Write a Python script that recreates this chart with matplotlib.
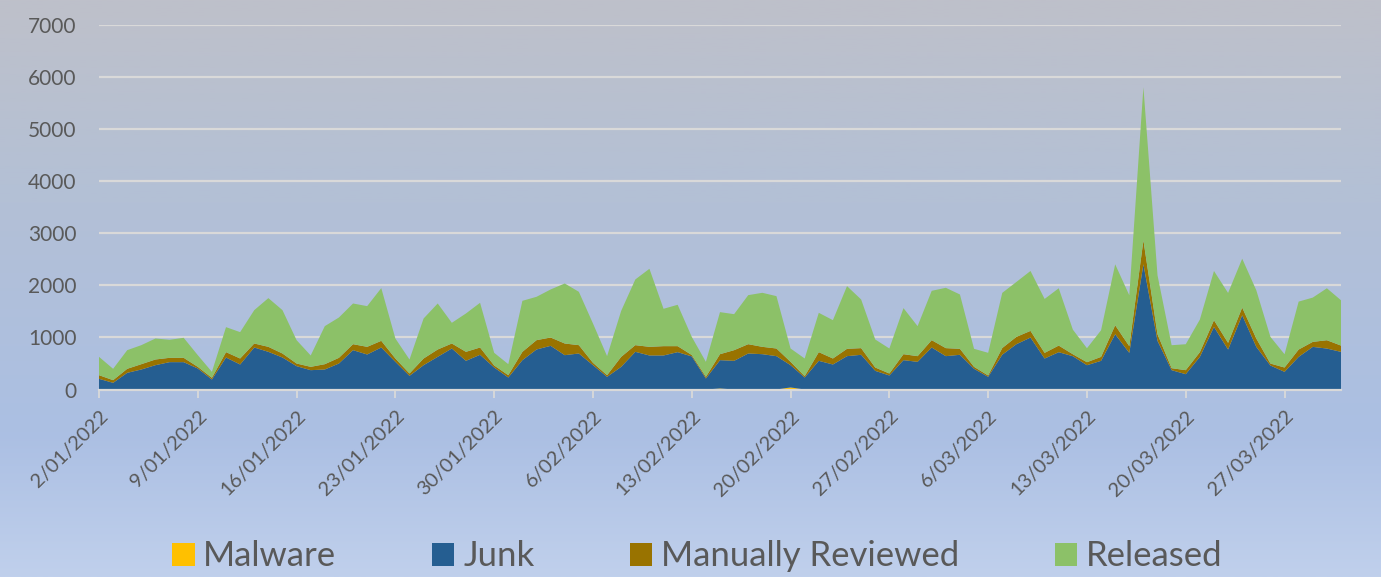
import numpy as np
import pandas as pd
import matplotlib
matplotlib.use("Agg")
import matplotlib.pyplot as plt
import matplotlib.transforms as mtransforms
from matplotlib.patches import Patch
from matplotlib.colors import LinearSegmentedColormap

plt.rcParams['font.family'] = ['Lato', 'DejaVu Sans']

# daily counts, 2 Jan 2022 .. 31 Mar 2022
dates = pd.date_range("2022-01-02", "2022-03-31", freq="D")

malware = [0] * 89
malware[44] = 20
malware[49] = 40

junk = [205, 128, 320, 384, 467, 525, 525, 403, 192, 614,
        480, 806, 723, 614, 448, 371, 384, 499, 755, 672,
        806, 531, 262, 467, 627, 787, 550, 666, 422, 230,
        563, 768, 838, 659, 691, 467, 243, 435, 723, 653,
        653, 717, 635, 211, 543, 550, 691, 678, 640, 427,
        230, 550, 480, 640, 666, 358, 269, 563, 531, 806,
        640, 666, 397, 243, 668, 869, 997, 594, 716, 639,
        466, 550, 1061, 703, 2403, 933, 371, 294, 626, 1201,
        767, 1425, 818, 460, 339, 626, 818, 786, 722]

manual = [70, 51, 77, 102, 109, 83, 83, 32, 32, 103,
          115, 77, 96, 77, 51, 64, 102, 109, 115, 147,
          128, 64, 45, 128, 141, 96, 173, 140, 39, 45,
          160, 179, 160, 224, 160, 45, 32, 192, 128, 166,
          179, 115, 27, 32, 115, 205, 179, 141, 147, 64,
          26, 167, 115, 141, 128, 64, 38, 115, 109, 141,
          154, 115, 38, 26, 128, 141, 128, 109, 127, 38,
          58, 76, 172, 128, 460, 128, 38, 77, 90, 128,
          128, 147, 160, 38, 83, 141, 96, 160, 121]

released = [352, 218, 358, 365, 403, 346, 384, 224, 115, 480,
            506, 640, 935, 832, 448, 218, 730, 774, 781, 781,
            1012, 384, 269, 768, 883, 397, 736, 858, 243, 211,
            979, 832, 922, 1152, 1024, 755, 365, 883, 1261, 1498,
            717, 794, 348, 288, 807, 691, 941, 1037, 1005, 256,
            339, 755, 736, 1203, 934, 538, 480, 884, 576, 947,
            1158, 1043, 346, 435, 1059, 1054, 1150, 1035, 1100, 473,
            268, 511, 1170, 977, 2939, 1131, 441, 498, 626, 946,
            958, 939, 926, 512, 255, 920, 850, 997, 870]

labels = ["Malware", "Junk", "Manually Reviewed", "Released"]
colors = ["#FFC000", "#255E91", "#997300", "#8CC168"]

fig = plt.figure(figsize=(13.81, 5.77), dpi=100)

# gradient background
bg = fig.add_axes([0, 0, 1, 1], zorder=-10)
grad_cmap = LinearSegmentedColormap.from_list(
    "bg", [(0.0, "#BEC0CA"), (0.35, "#B3C0D6"), (0.75, "#ABBFE3"), (1.0, "#C0D0EC")])
bg.imshow(np.linspace(0, 1, 256).reshape(-1, 1), aspect="auto", cmap=grad_cmap,
          extent=[0, 1, 0, 1], origin="upper")
bg.axis("off")

ax = fig.add_axes([99 / 1381, 1 - 389.5 / 577, 1242 / 1381, 364.7 / 577])
ax.patch.set_alpha(0)

ax.stackplot(dates, malware, junk, manual, released, colors=colors, linewidth=0)

ax.set_xlim(dates[0], dates[-1])
ax.set_ylim(0, 7000)
ax.set_yticks(range(0, 7001, 1000))
ax.yaxis.grid(True, color="#D9D9D9", linewidth=1.6)
ax.set_axisbelow(True)

tick_dates = pd.date_range("2022-01-02", "2022-03-27", freq="7D")
ax.set_xticks(tick_dates)
ax.set_xticklabels([f"{d.day}/{d.month:02d}/{d.year}" for d in tick_dates],
                   rotation=45, ha="right", rotation_mode="anchor")
shift = mtransforms.ScaledTranslation(10 / 100, 0, fig.dpi_scale_trans)
for lab in ax.get_xticklabels():
    lab.set_transform(lab.get_transform() + shift)

for s in ["top", "right", "left"]:
    ax.spines[s].set_visible(False)
ax.spines["bottom"].set_color("#D9D9D9")
ax.spines["bottom"].set_linewidth(1.6)
ax.tick_params(axis="y", length=0, pad=16, labelsize=15, labelcolor="#595959")
ax.tick_params(axis="x", length=6, width=1.3, color="#D9D9D9", pad=7,
               labelsize=14.5, labelcolor="#595959")

handles = [Patch(facecolor=c, edgecolor="none") for c in colors]
fig.legend(handles, labels, loc="lower center", bbox_to_anchor=(0.505, -0.046), ncol=4,
           frameon=False, fontsize=25, labelcolor="#595959", handlelength=0.65,
           handleheight=0.65, handletextpad=0.25, columnspacing=2.75)

fig.savefig("out.png", dpi=100)
